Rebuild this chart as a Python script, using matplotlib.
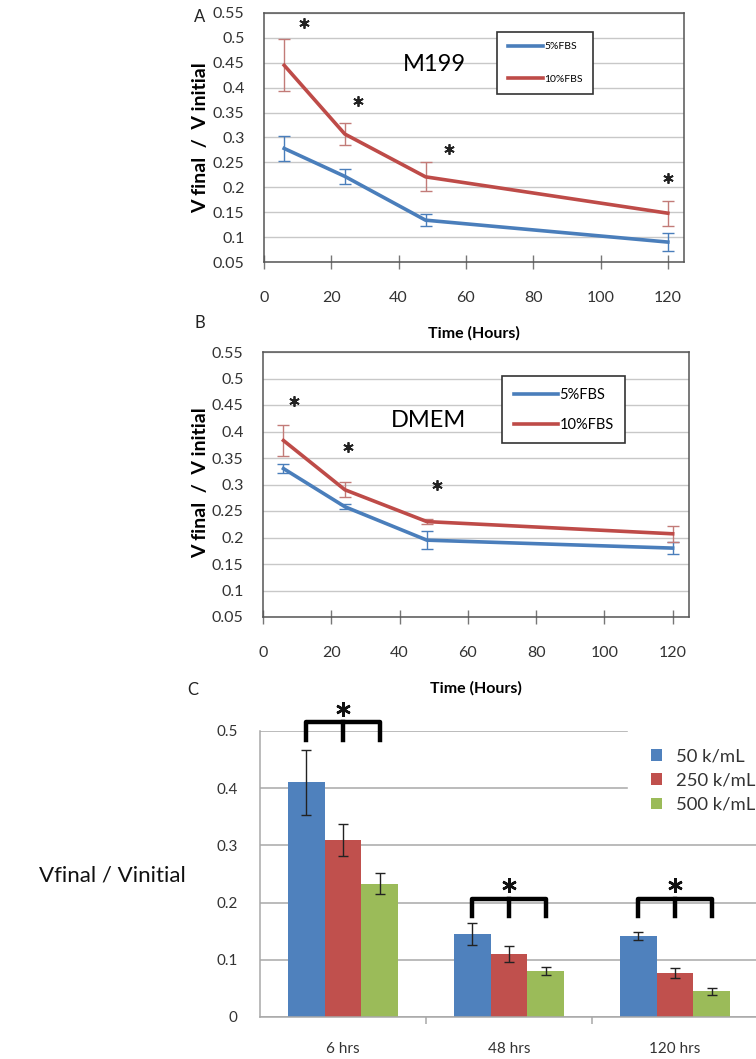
import numpy as np
import matplotlib
matplotlib.use("Agg")
import matplotlib.pyplot as plt
from matplotlib.lines import Line2D

plt.rcParams['font.family'] = ['Lato', 'DejaVu Sans']

# panels A and B: time course
hours = [6, 24, 48, 120]
m199_5 = [0.278, 0.222, 0.134, 0.090]
m199_5_err = [0.025, 0.015, 0.012, 0.018]
m199_10 = [0.445, 0.307, 0.221, 0.148]
m199_10_err = [0.052, 0.022, 0.029, 0.025]
m199_stars_x = [12, 28, 55, 120]
m199_stars_y = [0.530, 0.373, 0.277, 0.219]

dmem_5 = [0.330, 0.258, 0.195, 0.180]
dmem_5_err = [0.008, 0.005, 0.017, 0.012]
dmem_10 = [0.383, 0.290, 0.230, 0.207]
dmem_10_err = [0.030, 0.014, 0.004, 0.015]
dmem_stars_x = [9, 25, 51]
dmem_stars_y = [0.458, 0.370, 0.300]

y_ticks = [0.05, 0.1, 0.15, 0.2, 0.25, 0.3, 0.35, 0.4, 0.45, 0.5, 0.55]
y_tick_labels = ["0.05", "0.1", "0.15", "0.2", "0.25", "0.3", "0.35", "0.4", "0.45", "0.5", "0.55"]
x_ticks = [0, 20, 40, 60, 80, 100, 120]
series_names = ["5%FBS", "10%FBS"]

# panel C: bars
groups = ["6 hrs", "48 hrs", "120 hrs"]
densities = ["50 k/mL", "250 k/mL", "500 k/mL"]
bar_vals = [[0.410, 0.145, 0.142],
            [0.309, 0.111, 0.077],
            [0.233, 0.081, 0.045]]
bar_errs = [[0.057, 0.019, 0.007],
            [0.028, 0.014, 0.008],
            [0.018, 0.007, 0.006]]
bracket_y = [0.515, 0.207, 0.207]
star_y = [0.538, 0.230, 0.230]

blue = "#4a7ebb"
red = "#be4b48"
bar_colors = ["#4f81bd", "#c0504d", "#9bbb59"]

W, H = 756, 1059
fig = plt.figure(figsize=(W / 100, H / 100), dpi=100)


def box(l, r, t, b):
    return [l / W, 1 - b / H, (r - l) / W, (b - t) / H]


def line_panel(ax, y5, e5, y10, e10, sx, sy, label, label_xy, leg_small):
    ax.set_xlim(0, 124.8)
    ax.set_ylim(0.05, 0.55)
    ax.set_yticks(y_ticks)
    ax.set_yticklabels(y_tick_labels)
    ax.set_xticks(x_ticks)
    ax.grid(axis="y", color="#c8c8c8", lw=1)
    ax.set_axisbelow(True)
    for s in ax.spines.values():
        s.set_color("#555555")
        s.set_linewidth(1.1)
    ax.tick_params(axis="y", length=0, pad=14, labelsize=11.5, colors="#333333")
    ax.tick_params(axis="x", direction="inout", length=10, width=1, color="#777777",
                   pad=16, labelsize=11.5, labelcolor="#333333")
    ax.errorbar(hours, y5, yerr=e5, color=blue, lw=2.6, elinewidth=1.0, capsize=4,
                ecolor=blue)
    ax.errorbar(hours, y10, yerr=e10, color=red, lw=2.6, elinewidth=1.0, capsize=4,
                ecolor="#c27b78")
    ax.plot(sx, sy, ls="none", marker=(6, 2, 0), ms=7.5, mew=1.3, color="#222222")
    ax.text(label_xy[0], label_xy[1], label, fontsize=17, ha="center", va="center")
    ax.set_xlabel("Time (Hours)", fontsize=11.5, fontweight="bold", labelpad=15)
    handles = [Line2D([], [], color=blue, lw=2.6), Line2D([], [], color=red, lw=2.6)]
    if leg_small:
        leg = ax.legend(handles, series_names, loc="upper left",
                        bbox_to_anchor=(0.555, 0.925), fontsize=7.5,
                        handlelength=3.4, handletextpad=0.1, labelspacing=2.2,
                        borderpad=1.0, fancybox=False, edgecolor="#333333",
                        framealpha=1, borderaxespad=0)
    else:
        leg = ax.legend(handles, series_names, loc="upper left",
                        bbox_to_anchor=(0.562, 0.909), fontsize=10.5,
                        handlelength=3.0, handletextpad=0.1, labelspacing=1.1,
                        borderpad=0.8, fancybox=False, edgecolor="#333333",
                        framealpha=1, borderaxespad=0)
    leg.get_frame().set_linewidth(1.2)


axA = fig.add_axes(box(264, 684, 13, 262))
line_panel(axA, m199_5, m199_5_err, m199_10, m199_10_err, m199_stars_x, m199_stars_y,
           "M199", (50.5, 0.446), True)
axB = fig.add_axes(box(263, 689, 352, 617))
line_panel(axB, dmem_5, dmem_5_err, dmem_10, dmem_10_err, dmem_stars_x, dmem_stars_y,
           "DMEM", (48.5, 0.420), False)

for yc in [138, 483]:
    fig.text(201 / W, 1 - yc / H, "V final  /  V initial", rotation=90, ha="center",
             va="center", fontsize=14, fontweight="bold")
fig.text(200 / W, 1 - 17 / H, "A", fontsize=12, ha="center", va="center", color="#222222")
fig.text(200 / W, 1 - 323 / H, "B", fontsize=12, ha="center", va="center", color="#222222")
fig.text(193 / W, 1 - 690 / H, "C", fontsize=12, ha="center", va="center", color="#222222")

# panel C
axC = fig.add_axes(box(260, 758, 731, 1017))
x = np.arange(len(groups))
bw = 0.22
for i in range(len(densities)):
    xs = x + (i - 1) * bw
    axC.bar(xs, bar_vals[i], width=bw, color=bar_colors[i], label=densities[i], zorder=2)
    axC.errorbar(xs, bar_vals[i], yerr=bar_errs[i], fmt="none", ecolor="#222222",
                 elinewidth=1.0, capsize=3.5, zorder=3)
axC.set_xlim(-0.5, 2.5)
axC.set_ylim(0, 0.5)
axC.set_yticks([0, 0.1, 0.2, 0.3, 0.4, 0.5])
axC.set_yticklabels(["0", "0.1", "0.2", "0.3", "0.4", "0.5"])
axC.grid(axis="y", color="#a8a8a8", lw=1.1)
axC.set_axisbelow(True)
for s in ["top", "right"]:
    axC.spines[s].set_visible(False)
axC.spines["left"].set_color("#a8a8a8")
axC.spines["bottom"].set_color("#a8a8a8")
axC.spines["left"].set_linewidth(1.1)
axC.spines["bottom"].set_linewidth(1.1)
axC.tick_params(axis="y", length=0, pad=16, labelsize=11, colors="#333333")
axC.set_xticks(x)
axC.set_xticklabels(groups)
axC.tick_params(axis="x", length=0, pad=18, labelsize=11, colors="#333333")
axC.set_xticks([0.5, 1.5], minor=True)
axC.tick_params(axis="x", which="minor", length=5, color="#a8a8a8", width=1.1)

for g in range(len(groups)):
    yb = bracket_y[g]
    xl, xr = x[g] - bw, x[g] + bw
    axC.plot([xl, xl, xr, xr], [yb - 0.03, yb, yb, yb - 0.03], color="black", lw=3.2,
             solid_joinstyle="round", clip_on=False, zorder=4)
    axC.plot([x[g], x[g]], [yb, yb - 0.03], color="black", lw=3.2, clip_on=False, zorder=4)
axC.plot(x, star_y, ls="none", marker=(6, 2, 0), ms=10.5, mew=1.8, color="#111111",
         clip_on=False, zorder=5)

legC = axC.legend(loc="upper left", bbox_to_anchor=(0.739, 1.02), fontsize=13.3,
                  handlelength=0.6, handleheight=0.6, handletextpad=0.75,
                  labelspacing=0.45, borderpad=1.25, frameon=True, framealpha=1,
                  edgecolor="white", fancybox=False, borderaxespad=0)
for t in legC.get_texts():
    t.set_color("#333333")

fig.text(112 / W, 1 - 876 / H, "Vfinal / Vinitial", fontsize=16, ha="center",
         va="center", color="#111111")

fig.savefig("out.png", dpi=100, facecolor="white")
